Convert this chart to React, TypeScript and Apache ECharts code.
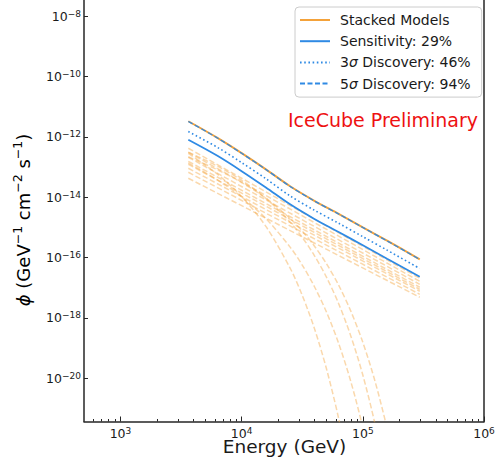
import React, { useEffect, useRef } from 'react';
import * as echarts from 'echarts';

// ---- data (energies in GeV, fluxes in GeV^-1 cm^-2 s^-1) ----
const energies = [3630, 6310, 10000, 15850, 25120, 39810, 63100, 100000, 158500, 295000];
const stackedModels = [3.3e-12, 9.3e-13, 2.9e-13, 8.4e-14, 2.3e-14, 7.6e-15, 2.8e-15, 1.0e-15, 3.6e-16, 8.7e-17];
const discovery5 = [3.25e-12, 9.2e-13, 2.85e-13, 8.3e-14, 2.27e-14, 7.5e-15, 2.77e-15, 9.9e-16, 3.55e-16, 8.6e-17];
const discovery3 = [1.5e-12, 4.5e-13, 1.4e-13, 4.1e-14, 1.1e-14, 3.7e-15, 1.37e-15, 4.9e-16, 1.75e-16, 4.3e-17];
const sensitivity = [8.0e-13, 2.35e-13, 7.3e-14, 2.1e-14, 5.8e-15, 1.9e-15, 7.0e-16, 2.55e-16, 9.1e-17, 2.3e-17];

const powerLawEnergies = [3630, 295000];
const powerLawModels = [
  [4.19e-13, 2.04e-17],
  [3.08e-13, 1.62e-17],
  [2.1e-13, 1.29e-17],
  [1.55e-13, 1.03e-17],
  [1.23e-13, 8.8e-18],
  [9.1e-14, 7.6e-18],
  [6.7e-14, 6.0e-18],
  [4.24e-14, 4.8e-18],
];

const cutoffEnergies = [3630, 6310, 10000, 15850, 25120, 31620, 39810, 50120, 63100, 79430, 100000, 125900, 158500, 199500];
const cutoffModels = [
  [2.84e-13, 5.79e-14, 1.05e-14, 1.07e-15, 4.45e-17, 5.57e-18, 4.49e-19, 2.03e-20, 4.64e-22, 4.4e-24],
  [1.36e-13, 3.72e-14, 1.02e-14, 1.95e-15, 2.21e-16, 5.6e-17, 1.09e-17, 1.55e-18, 1.43e-19, 7.89e-21, 2.26e-22, 2.8e-24],
  [3.11e-13, 1.07e-13, 3.61e-14, 9.12e-15, 1.48e-15, 4.65e-16, 1.16e-16, 2.22e-17, 2.98e-18, 2.55e-19, 1.26e-20, 3.05e-22, 3.05e-24],
  [2.19e-13, 8.11e-14, 3.05e-14, 9.27e-15, 1.97e-15, 7.52e-16, 2.41e-16, 6.18e-17, 1.22e-17, 1.69e-18, 1.54e-19, 8.02e-21, 2.11e-22, 2.35e-24],
];

const xMajorExponents = [3, 4, 5, 6];
const yMajorExponents = [-20, -18, -16, -14, -12, -10, -8];
const xMinorMultipliers = [2, 3, 4, 5, 6, 7, 8, 9];
const xMinorDecades = [100, 1000, 10000, 100000];
const xRange = [500, 1e6];
const yRange = [10 ** -21.44, 10 ** -7.46];

const legendNames = ['Stacked Models', 'Sensitivity: 29%', '3σ Discovery: 46%', '5σ Discovery: 94%'];

const FONT = 'DejaVu Sans';
const ORANGE = '#f4a23a';
const BLUE = '#2f8ae4';
const TXT = '#1a1a1a';
const SPINE = '#262626';

const lg = Math.log10;
const pairs = (xs: number[], ys: number[]) => ys.map((y, i) => [lg(xs[i]), lg(y)]);

const supRich = {
  b: { fontFamily: FONT, fontSize: 12.5, color: TXT, lineHeight: 14 },
  s: { fontFamily: FONT, fontSize: 9, color: TXT, verticalAlign: 'top' },
};
const powLabel = (v: number) => {
  const r = Math.round(v);
  return `{b|10}{s|${r < 0 ? '\u2212' + Math.abs(r) : r}}`;
};

export default function App() {
  const ref = useRef<HTMLDivElement>(null);
  useEffect(() => {
    if (!ref.current) return;
    const chart = echarts.init(ref.current, null, { renderer: 'svg' });
    const minorVals: number[] = [];
    xMinorDecades.forEach((d) => xMinorMultipliers.forEach((m) => {
      const v = lg(m * d);
      if (v > lg(xRange[0]) + 1e-6 && v < lg(xRange[1]) - 1e-6) minorVals.push(v);
    }));

    const modelStyle = { color: ORANGE, width: 1.5, type: [5.5, 2.6], opacity: 0.42 };
    const series: any[] = [];
    powerLawModels.forEach((m, i) => series.push({
      name: 'pl' + i, type: 'line', data: pairs(powerLawEnergies, m), showSymbol: false, symbol: 'none',
      lineStyle: modelStyle, itemStyle: { color: ORANGE }, z: 1, silent: true,
    }));
    cutoffModels.forEach((m, i) => series.push({
      name: 'co' + i, type: 'line', data: pairs(cutoffEnergies, m), showSymbol: false, symbol: 'none', smooth: 0.3,
      lineStyle: modelStyle, itemStyle: { color: ORANGE }, z: 1, silent: true, clip: true,
    }));
    series.push({
      name: legendNames[0], type: 'line', data: pairs(energies, stackedModels), symbol: 'none', smooth: 0.3,
      lineStyle: { color: ORANGE, width: 2 }, itemStyle: { color: ORANGE }, z: 3,
    });
    series.push({
      name: legendNames[1], type: 'line', data: pairs(energies, sensitivity), symbol: 'none', smooth: 0.3,
      lineStyle: { color: BLUE, width: 1.8 }, itemStyle: { color: BLUE }, z: 3,
    });
    series.push({
      name: legendNames[2], type: 'line', data: pairs(energies, discovery3), symbol: 'none', smooth: 0.3,
      lineStyle: { color: BLUE, width: 1.6, type: [1.6, 2.6] }, itemStyle: { color: BLUE }, z: 3,
    });
    series.push({
      name: legendNames[3], type: 'line', data: pairs(energies, discovery5), symbol: 'none', smooth: 0.3,
      lineStyle: { color: BLUE, width: 1.3, type: [5, 2.5] }, itemStyle: { color: BLUE }, z: 4,
    });

    const spine = { show: true, onZero: false, lineStyle: { color: SPINE, width: 1.5 } };
    const option: any = {
      animation: false,
      backgroundColor: '#ffffff',
      grid: { left: 84, right: 16, top: 0, bottom: 43.5, show: false },
      xAxis: [
        {
          type: 'value', min: lg(xRange[0]), max: lg(xRange[1]), position: 'bottom',
          axisLine: spine, splitLine: { show: false },
          axisTick: { show: true, inside: true, length: 5, customValues: xMajorExponents, lineStyle: { color: SPINE, width: 1 } },
          axisLabel: { customValues: xMajorExponents, margin: 5, formatter: powLabel, rich: supRich, showMinLabel: true, showMaxLabel: true, hideOverlap: false },
        },
        {
          type: 'value', min: lg(xRange[0]), max: lg(xRange[1]), position: 'bottom', gridIndex: 0, offset: 0,
          axisLine: { show: false }, splitLine: { show: false }, axisLabel: { show: false },
          axisTick: { show: true, inside: true, length: 2.5, customValues: minorVals, lineStyle: { color: SPINE, width: 1 } },
        },
      ],
      yAxis: [
        {
          type: 'value', min: lg(yRange[0]), max: lg(yRange[1]), position: 'left',
          axisLine: spine, splitLine: { show: false },
          axisTick: { show: true, inside: true, length: 4, customValues: yMajorExponents, lineStyle: { color: SPINE, width: 1 } },
          axisLabel: { customValues: yMajorExponents, margin: 3, formatter: powLabel, rich: supRich },
        },
        {
          type: 'value', min: lg(yRange[0]), max: lg(yRange[1]), position: 'right', offset: 0,
          axisLine: spine, splitLine: { show: false }, axisTick: { show: false }, axisLabel: { show: false },
        },
      ],
      legend: {
        data: legendNames,
        orient: 'vertical', left: 295, top: 7,
        itemWidth: 30, itemHeight: 10, itemGap: 5.2,
        padding: [5, 11, 5.5, 4],
        backgroundColor: '#ffffff', borderColor: '#cccccc', borderWidth: 1, borderRadius: 4,
        itemStyle: { opacity: 0 },
        textStyle: {
          fontFamily: FONT, fontSize: 14, color: TXT, lineHeight: 16, padding: [0, 0, 0, 5],
          rich: { i: { fontFamily: FONT, fontSize: 14, fontStyle: 'italic', color: TXT, lineHeight: 16 } },
        },
        formatter: (n: string) => n.replace('σ', '{i|σ}'),
      },
      graphic: [
        {
          type: 'text', x: 383, y: 120,
          style: { text: 'IceCube Preliminary', font: `19px "${FONT}"`, fill: '#ee1111', textAlign: 'center', textVerticalAlign: 'middle' },
          z: 10,
        },
        {
          type: 'text', x: 284.5, y: 446,
          style: { text: 'Energy (GeV)', font: `18.5px "${FONT}"`, lineHeight: 12, fill: TXT, textAlign: 'center', textVerticalAlign: 'middle' },
        },
        {
          type: 'text', x: 23, y: 220, rotation: Math.PI / 2,
          style: {
            text: '{i|ϕ}{n| (GeV}{s|\u22121}{n| cm}{s|\u22122}{n| s}{s|\u22121}{n|)}',
            textAlign: 'center', textVerticalAlign: 'middle',
            rich: {
              n: { fontFamily: FONT, fontSize: 18, color: TXT, lineHeight: 24 },
              i: { fontFamily: FONT, fontSize: 18, fontStyle: 'italic', color: TXT, lineHeight: 24 },
              s: { fontFamily: FONT, fontSize: 12.5, color: TXT, verticalAlign: 'top' },
            },
          },
        },
      ],
      series,
    };
    chart.setOption(option);
    return () => chart.dispose();
  }, []);
  return <div ref={ref} style={{ position: 'fixed', left: 0, top: 0, width: 500, height: 465 }} />;
}
